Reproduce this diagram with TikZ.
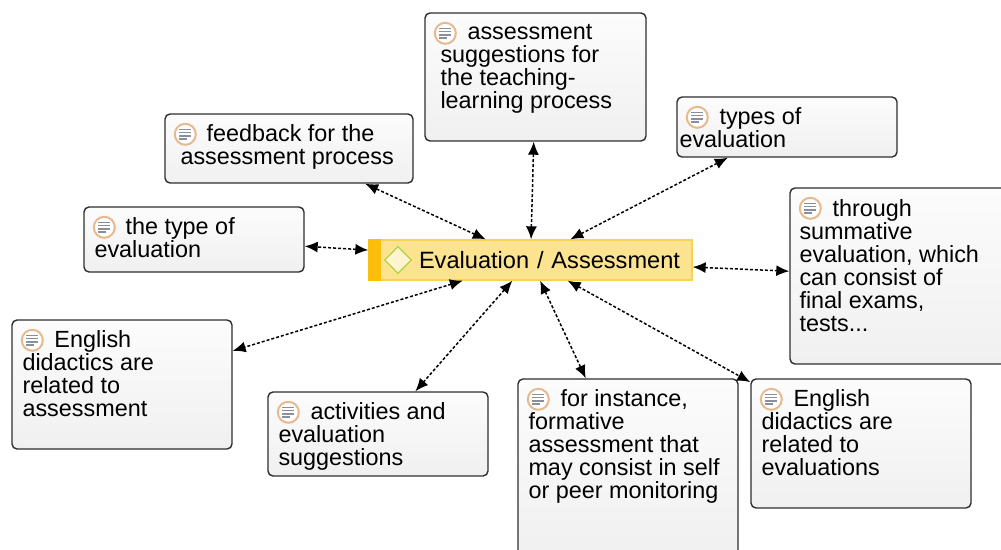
\documentclass[tikz,border=0pt]{standalone}
\usepackage{fontspec}
\setmainfont{Liberation Sans}
\usepackage{xcolor}
\usetikzlibrary{arrows.meta, shapes.geometric}
\definecolor{cardtop}{HTML}{FCFCFC}
\definecolor{cardbottom}{HTML}{F0F0F0}
\definecolor{cardline}{HTML}{2E2E2E}
\definecolor{mainfill}{HTML}{FCE38F}
\definecolor{mainline}{HTML}{F6D24E}
\definecolor{mainbar}{HTML}{FBBF0B}
\definecolor{iconring}{HTML}{E8B98C}
\definecolor{iconline}{HTML}{8A8FA0}
\tikzset{
        x=1pt, y=-1pt, % same units as the pixels of the picture
        noteicon/.pic={
            \draw[iconring, line width=2pt, fill=white] (0,0) circle (10.5);
            \foreach \yy/\xx in {-5/6, -1.7/6, 1.6/6, 4.9/2}
                \draw[iconline, line width=1.5pt] (-6,\yy) -- (\xx,\yy);
        },
    }
\tikzstyle{notecard}=[draw=cardline,line width=1.4pt,rounded corners=5pt,top color=cardtop,bottom color=cardbottom,inner sep=0pt]
\tikzstyle{notetext}=[anchor=north west,align=left,inner sep=0pt,font=\fontsize{23.4}{23}\selectfont]
\tikzstyle{mainbox}=[draw=mainline,fill=mainfill,line width=1.3pt,inner xsep=0pt,inner ysep=0pt,minimum height=40pt,text width=323pt,font=\fontsize{23.6}{23}\selectfont]
\tikzstyle{link}=[densely dashed,line width=1.5pt,{Latex[length=13pt,width=11pt]}-{Latex[length=13pt,width=11pt]}]

\begin{document}
\begin{tikzpicture}
    \clip (0,0) rectangle (1001,549);

    % cards
    \node[notecard, minimum width=248pt, minimum height=69pt] (feedback) at (289,148.5) {};
    \node[notecard, minimum width=221pt, minimum height=128pt] (suggestions) at (535.5,77) {};
    \node[notecard, minimum width=220pt, minimum height=60pt] (types) at (787,127) {};
    \node[notecard, minimum width=220pt, minimum height=176pt] (summative) at (900,276) {};
    \node[notecard, minimum width=220pt, minimum height=65pt] (thetype) at (194,239.5) {};
    \node[notecard, minimum width=220pt, minimum height=129pt] (didactics) at (122,384.5) {};
    \node[notecard, minimum width=220pt, minimum height=84pt] (activities) at (378,434) {};
    \node[notecard, minimum width=220pt, minimum height=180pt] (formative) at (628,469) {};
    \node[notecard, minimum width=220pt, minimum height=129pt] (evaluations) at (861,443.5) {};

    % centre
    \node[mainbox] (main) at (530.5,260) {\hspace*{50pt}Evaluation / Assessment};
    \fill[mainbar] (main.north west) rectangle ([shift={(13,0)}]main.south west);
    \node[diamond, draw=iconline!30!green!35!mainline, fill=mainfill!40!white, line width=1.3pt, minimum size=27pt, inner sep=0pt] (mark) at (398,260) {};

    % labels
    \node[notetext] (feedback-text) at ([shift={(16,11)}]feedback.north west) {\hspace*{26pt}feedback for the\\assessment process};
    \node[notetext] (suggestions-text) at ([shift={(16,12)}]suggestions.north west) {\hspace*{27pt}assessment\\suggestions for\\the teaching-\\learning process};
    \node[notetext] (types-text) at ([shift={(3,11)}]types.north west) {\hspace*{40pt}types of\\evaluation};
    \node[notetext] (summative-text) at ([shift={(10,12)}]summative.north west) {\hspace*{33pt}through\\summative\\evaluation, which\\can consist of\\final exams,\\tests...};
    \node[notetext] (thetype-text) at ([shift={(11,11)}]thetype.north west) {\hspace*{31pt}the type of\\evaluation};
    \node[notetext] (didactics-text) at ([shift={(11,11)}]didactics.north west) {\hspace*{32pt}English\\didactics are\\related to\\assessment};
    \node[notetext] (activities-text) at ([shift={(11,11)}]activities.north west) {\hspace*{32pt}activities and\\evaluation\\suggestions};
    \node[notetext] (formative-text) at ([shift={(11,11)}]formative.north west) {\hspace*{32pt}for instance,\\formative\\assessment that\\may consist in self\\or peer monitoring};
    \node[notetext] (evaluations-text) at ([shift={(11,11)}]evaluations.north west) {\hspace*{32pt}English\\didactics are\\related to\\evaluations};

    \foreach \card in {feedback, suggestions, types, summative, thetype, didactics, activities, formative, evaluations}
        \pic at ([shift={(21,21)}]\card.north west) {noteicon};

    % links
    \foreach \card in {feedback, suggestions, types, summative, thetype, didactics, activities, formative, evaluations}
        \draw[link] (main) -- (\card);
\end{tikzpicture}
\end{document}
